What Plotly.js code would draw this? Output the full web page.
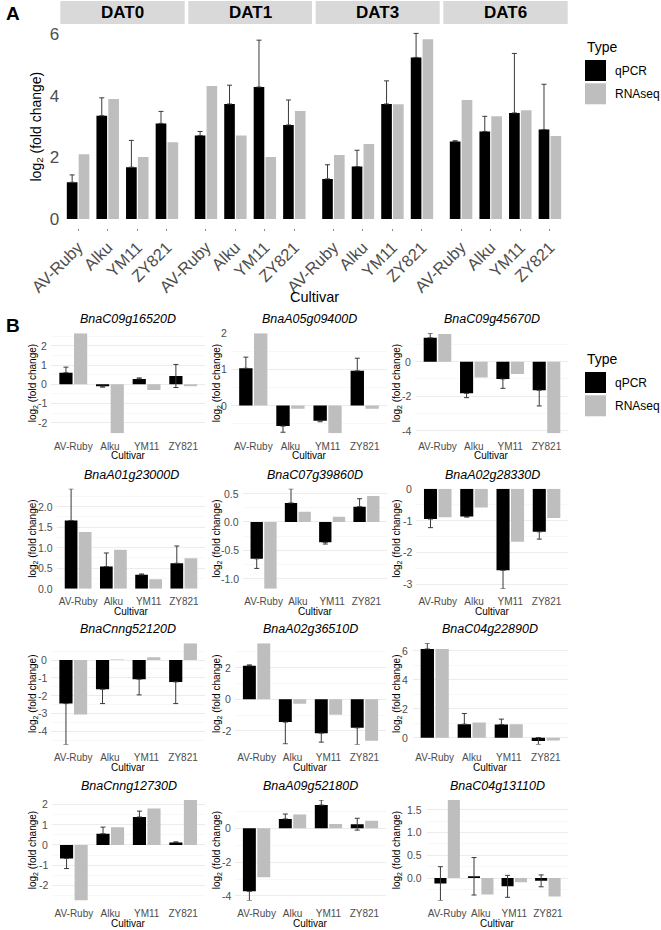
<!DOCTYPE html>
<html>
<head>
<meta charset="utf-8">
<script src="https://cdn.plot.ly/plotly-3.0.1.min.js"></script>
<style>
  html, body { margin: 0; padding: 0; background: #ffffff; }
  #chart { width: 661px; height: 930px; }
</style>
</head>
<body>
<div id="chart"></div>
<script>
// ---- data ---------------------------------------------------------------
const cultivars = ['AV-Ruby', 'Alku', 'YM11', 'ZY821'];
const days = ['DAT0', 'DAT1', 'DAT3', 'DAT6'];
const typeNames = ['qPCR', 'RNAseq'];

// Panel A: log2 fold change per day (rows) and cultivar (columns)
const qpcrA = [
  [1.19, 3.35, 1.68, 3.10],
  [2.71, 3.73, 4.28, 3.05],
  [1.30, 1.70, 3.73, 5.24],
  [2.51, 2.84, 3.44, 2.90]
];
const sdA = [
  [0.24, 0.58, 0.87, 0.39],
  [0.13, 0.61, 1.52, 0.81],
  [0.46, 0.53, 0.75, 0.78],
  [0.03, 0.49, 1.93, 1.47]
];
const rnaA = [
  [2.10, 3.89, 2.01, 2.49],
  [4.31, 2.71, 2.01, 3.50],
  [2.08, 2.43, 3.72, 5.83],
  [3.86, 3.33, 3.53, 2.69]
];

// Panel B: one row per gene, columns follow cultivars
const genes = [
  'BnaC09g16520D', 'BnaA05g09400D', 'BnaC09g45670D',
  'BnaA01g23000D', 'BnaC07g39860D', 'BnaA02g28330D',
  'BnaCnng52120D', 'BnaA02g36510D', 'BnaC04g22890D',
  'BnaCnng12730D', 'BnaA09g52180D', 'BnaC04g13110D'
];
const qpcrB = [
  [0.60, -0.10, 0.28, 0.43],
  [1.03, -0.57, -0.42, 0.96],
  [1.38, -1.83, -1.00, -1.65],
  [1.66, 0.54, 0.34, 0.62],
  [-0.65, 0.335, -0.36, 0.27],
  [-0.95, -0.87, -2.56, -1.35],
  [-2.45, -1.64, -1.08, -1.23],
  [2.13, -1.45, -2.15, -1.81],
  [6.12, 0.93, 0.91, -0.23],
  [-0.67, 0.55, 1.38, 0.12],
  [-3.73, 0.55, 1.37, 0.24],
  [-0.12, 0.04, -0.18, -0.06]
];
const sdB = [
  [0.29, 0.05, 0.05, 0.60],
  [0.31, 0.17, 0.03, 0.35],
  [0.26, 0.25, 0.54, 0.91],
  [0.77, 0.33, 0.02, 0.42],
  [0.17, 0.25, 0.03, 0.14],
  [0.27, 0.02, 0.58, 0.23],
  [2.30, 0.81, 0.88, 1.22],
  [0.05, 1.38, 0.57, 1.06],
  [0.39, 0.74, 0.37, 0.24],
  [0.50, 0.33, 0.29, 0.03],
  [0.54, 0.29, 0.30, 0.35],
  [0.37, 0.41, 0.24, 0.13]
];
const rnaB = [
  [2.65, -2.55, -0.30, -0.10],
  [2.00, -0.09, -0.77, -0.09],
  [1.60, -0.92, -0.71, -4.14],
  [1.38, 0.95, 0.23, 0.74],
  [-1.18, 0.18, 0.09, 0.46],
  [-0.89, -0.59, -1.66, -0.92],
  [-3.06, 0.03, 0.15, 0.94],
  [3.55, -0.28, -0.98, -2.64],
  [6.12, 1.05, 0.93, -0.20],
  [-2.75, 0.87, 1.80, 2.22],
  [-2.90, 0.82, 0.25, 0.45],
  [1.71, -0.36, -0.09, -0.40]
];
const yTickStepB = [1, 1, 2, 0.5, 0.5, 1, 1, 2, 2, 1, 2, 0.5];

// ---- styling / geometry -------------------------------------------------
const W = 661, H = 930;
const FONT = 'Liberation Sans, Arial, Helvetica, sans-serif';
const BAR_COLORS = { qPCR: '#000000', RNAseq: '#bebebe' };
const ERR_COLOR = '#3a3a3a';
const TICK_GREY = '#4d4d4d';

const px = v => v / W;
const py = v => 1 - v / H;

// facet columns of panel A (pixel extents)
const facetX = [[60.3, 184.7], [188.3, 312], [315.7, 439.7], [443.3, 567.7]];
const panelA_Y = [24.1, 228.3];
// small multiples of panel B
const gridX = [
  [51.3, 205.2], [231, 387], [415.7, 568.3],
  [57, 205], [243, 387], [416, 568.3],
  [51.3, 205], [235, 386], [412.5, 568],
  [52, 205], [235, 386], [427, 568]
];
const rowY = [[333.3, 433.3], [488.8, 588.8], [643.3, 744.5], [800, 900.5]];
const yTitleX = [33, 217, 397];

// error bar: outward whisker always shown; inward one only where it passes zero
function errorBars(vals, sds) {
  const plus = [], minus = [];
  vals.forEach((v, i) => {
    const sd = sds[i];
    const inner = sd > Math.abs(v) ? sd : 0;
    if (v >= 0) { plus.push(sd); minus.push(inner); }
    else { plus.push(inner); minus.push(sd); }
  });
  return { type: 'data', symmetric: false, array: plus, arrayminus: minus,
           color: ERR_COLOR, thickness: 1, width: 2.5 };
}

function valueRange(q, sd, r) {
  let lo = 0, hi = 0;
  q.forEach((v, i) => { lo = Math.min(lo, v - sd[i]); hi = Math.max(hi, v + sd[i]); });
  r.forEach(v => { lo = Math.min(lo, v); hi = Math.max(hi, v); });
  return [lo, hi];
}

// tick positions inside [lo, hi] with plain hyphen-minus labels
function tickSet(lo, hi, step) {
  const vals = [], text = [];
  const start = Math.ceil(lo / step - 1e-9);
  const end = Math.floor(hi / step + 1e-9);
  for (let k = start; k <= end; k++) {
    const v = +(k * step).toFixed(6);
    vals.push(v);
    text.push(step < 1 ? v.toFixed(1) : String(Math.round(v)));
  }
  return { vals, text };
}

const traces = [];
const layout = {
  width: W, height: H,
  margin: { l: 0, r: 0, t: 0, b: 0 },
  paper_bgcolor: '#ffffff', plot_bgcolor: '#ffffff',
  showlegend: false,
  barmode: 'group', bargap: 0.2, bargroupgap: 0.1,
  font: { family: FONT, color: '#000000' },
  shapes: [], annotations: []
};

function addText(text, x, y, size, opts) {
  layout.annotations.push(Object.assign({
    text: text, xref: 'paper', yref: 'paper', x: px(x), y: py(y),
    xanchor: 'center', yanchor: 'middle', showarrow: false,
    font: { family: FONT, size: size, color: '#000000' }
  }, opts || {}));
}

// ---- panel A ------------------------------------------------------------
let allQ = [], allSd = [], allR = [];
days.forEach((d, k) => { allQ = allQ.concat(qpcrA[k]); allSd = allSd.concat(sdA[k]); allR = allR.concat(rnaA[k]); });
const [aLo, aHi] = valueRange(allQ, allSd, allR);
const aPad = 0.05 * (aHi - aLo);
const aTicks = tickSet(aLo, aHi, 2);

layout.yaxis = {
  domain: [py(panelA_Y[1]), py(panelA_Y[0])],
  range: [aLo - aPad, aHi + aPad], anchor: 'x',
  tickmode: 'array', tickvals: aTicks.vals, ticktext: aTicks.text,
  ticks: '', tickfont: { family: FONT, size: 17, color: TICK_GREY },
  showgrid: false, zeroline: false, showline: false
};

days.forEach((d, k) => {
  const xa = k === 0 ? 'x' : 'x' + (k + 1);
  const xKey = k === 0 ? 'xaxis' : 'xaxis' + (k + 1);
  layout[xKey] = {
    domain: [px(facetX[k][0]), px(facetX[k][1])],
    type: 'category', categoryorder: 'array', categoryarray: cultivars,
    range: [-0.6, 3.6], anchor: 'y',
    tickangle: -45, ticks: 'outside', ticklen: 2, tickcolor: '#8a8a8a',
    tickfont: { family: FONT, size: 16.5, color: TICK_GREY },
    showgrid: false, zeroline: false, showline: false, automargin: false
  };
  traces.push({
    type: 'bar', x: cultivars, y: qpcrA[k], name: typeNames[0],
    xaxis: xa, yaxis: 'y', marker: { color: BAR_COLORS.qPCR },
    error_y: errorBars(qpcrA[k], sdA[k]), hoverinfo: 'x+y'
  });
  traces.push({
    type: 'bar', x: cultivars, y: rnaA[k], name: typeNames[1],
    xaxis: xa, yaxis: 'y', marker: { color: BAR_COLORS.RNAseq }, hoverinfo: 'x+y'
  });
  // facet strip
  layout.shapes.push({
    type: 'rect', xref: 'paper', yref: 'paper',
    x0: px(facetX[k][0]), x1: px(facetX[k][1]), y0: py(24), y1: py(1),
    fillcolor: '#d9d9d9', line: { width: 0 }, layer: 'below'
  });
  addText('<b>' + d + '</b>', (facetX[k][0] + facetX[k][1]) / 2, 12.8, 17);
});

addText('<b>A</b>', 13, 14, 19);
addText('log<sub>2</sub> (fold change)', 37, 126.5, 14, { textangle: -90 });
addText('Cultivar', 314, 297, 14.5);

// ---- panel B ------------------------------------------------------------
genes.forEach((g, i) => {
  const row = Math.floor(i / 3), col = i % 3;
  const xn = i + 5, yn = i + 2;
  const xa = 'x' + xn, ya = 'y' + yn;
  const [lo, hi] = valueRange(qpcrB[i], sdB[i], rnaB[i]);
  const step = yTickStepB[i];
  const ticks = tickSet(lo, hi, step);
  const [top, bottom] = rowY[row];
  const [left, right] = gridX[i];

  layout['xaxis' + xn] = {
    domain: [px(left), px(right)], anchor: ya,
    type: 'category', categoryorder: 'array', categoryarray: cultivars,
    range: [-0.6, 3.6], tickangle: 0,
    ticks: 'outside', ticklen: 3.5, tickcolor: 'rgba(0,0,0,0)',
    tickfont: { family: FONT, size: 10, color: TICK_GREY },
    showgrid: false, zeroline: false, showline: false, automargin: false
  };
  // gridlines come from the axis; the value labels are placed on the same scale
  layout['yaxis' + yn] = {
    domain: [py(bottom), py(top)], anchor: xa,
    range: [lo, hi],
    tickmode: 'array', tickvals: ticks.vals, showticklabels: false, ticks: '',
    showgrid: true, gridcolor: '#e9e9e9', gridwidth: 0.8,
    minor: { tickmode: 'linear', dtick: step / 2, tick0: 0, showgrid: true, gridcolor: '#f3f3f3', gridwidth: 0.6 },
    zeroline: false, showline: false, automargin: false
  };
  ticks.vals.forEach((v, k) => {
    layout.annotations.push({
      text: ticks.text[k], xref: 'paper', yref: ya, x: px(left - 2.5), y: v,
      xanchor: 'right', yanchor: 'middle', showarrow: false,
      font: { family: FONT, size: 10.5, color: TICK_GREY }
    });
  });
  traces.push({
    type: 'bar', x: cultivars, y: qpcrB[i], name: typeNames[0],
    xaxis: xa, yaxis: ya, marker: { color: BAR_COLORS.qPCR },
    error_y: errorBars(qpcrB[i], sdB[i]), hoverinfo: 'x+y'
  });
  traces.push({
    type: 'bar', x: cultivars, y: rnaB[i], name: typeNames[1],
    xaxis: xa, yaxis: ya, marker: { color: BAR_COLORS.RNAseq }, hoverinfo: 'x+y'
  });

  const cx = (left + right) / 2;
  addText('<i>' + g + '</i>', cx, top - 14, 12.5);
  addText('Cultivar', cx, bottom + 22.5, 10);
  addText('log<sub>2</sub> (fold change)', yTitleX[col], (top + bottom) / 2, 10, { textangle: -90 });
});

addText('<b>B</b>', 13, 325, 19);

// ---- legends (one beside each panel) -------------------------------------
function legendBlock(titleY, keyTop) {
  addText('Type', 585, titleY, 14, { xanchor: 'left' });
  typeNames.forEach((t, j) => {
    const y0 = keyTop + j * 23.3;
    layout.shapes.push({
      type: 'rect', xref: 'paper', yref: 'paper',
      x0: px(585), x1: px(606), y0: py(y0 + 21), y1: py(y0),
      fillcolor: BAR_COLORS[t], line: { width: 0 }
    });
    addText(t, 613, y0 + 10.5, 12, { xanchor: 'left' });
  });
}
legendBlock(46.7, 60);
legendBlock(359.3, 372);

Plotly.newPlot('chart', traces, layout, { displayModeBar: false, staticPlot: true });
</script>
</body>
</html>
